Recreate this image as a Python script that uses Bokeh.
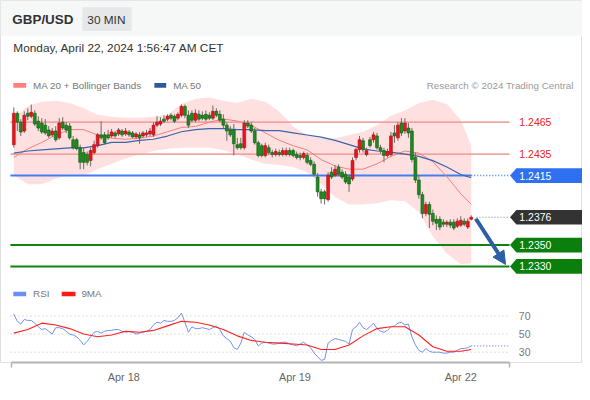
from bokeh.plotting import figure
from bokeh.models import Range1d, FixedTicker, Arrow, NormalHead
from bokeh.embed import file_html
from bokeh.resources import INLINE
from bokeh.core.properties import value

# ---------------- data (GBP/USD, 30 min candles) ----------------
opens = [
    1.24439, 1.24733, 1.24650, 1.24567, 1.24733, 1.24705, 1.24733, 1.24659, 1.24641, 1.24622,
    1.24577, 1.24531, 1.24567, 1.24503, 1.24650, 1.24622, 1.24613, 1.24485, 1.24485, 1.24411,
    1.24365, 1.24347, 1.24292, 1.24365, 1.24430, 1.24531, 1.24531, 1.24531, 1.24521, 1.24549,
    1.24540, 1.24567, 1.24540, 1.24558, 1.24549, 1.24512, 1.24531, 1.24521, 1.24531, 1.24540,
    1.24531, 1.24622, 1.24632, 1.24678, 1.24678, 1.24714, 1.24705, 1.24687, 1.24714, 1.24797,
    1.24714, 1.24733, 1.24668, 1.24723, 1.24714, 1.24723, 1.24714, 1.24687, 1.24751, 1.24723,
    1.24678, 1.24622, 1.24577, 1.24577, 1.24439, 1.24448, 1.24411, 1.24641, 1.24622, 1.24567,
    1.24457, 1.24430, 1.24338, 1.24411, 1.24365, 1.24347, 1.24365, 1.24347, 1.24347, 1.24384,
    1.24384, 1.24347, 1.24338, 1.24320, 1.24338, 1.24292, 1.24255, 1.24136, 1.23998, 1.23998,
    1.23925, 1.24182, 1.24154, 1.24228, 1.24182, 1.24163, 1.24136, 1.24118, 1.24320, 1.24393,
    1.24476, 1.24347, 1.24485, 1.24485, 1.24521, 1.24411, 1.24384, 1.24338, 1.24347, 1.24549,
    1.24503, 1.24641, 1.24567, 1.24595, 1.24567, 1.24320, 1.24108, 1.23971, 1.23796, 1.23879,
    1.23796, 1.23741, 1.23741, 1.23714, 1.23695, 1.23714, 1.23714, 1.23677, 1.23686, 1.23723,
    1.23668, 1.23741]
highs = [
    1.24788, 1.24751, 1.24678, 1.24751, 1.24779, 1.24815, 1.24760, 1.24705, 1.24687, 1.24678,
    1.24613, 1.24595, 1.24613, 1.24687, 1.24696, 1.24650, 1.24641, 1.24521, 1.24503, 1.24439,
    1.24411, 1.24375, 1.24411, 1.24476, 1.24549, 1.24659, 1.24558, 1.24577, 1.24586, 1.24567,
    1.24595, 1.24586, 1.24595, 1.24577, 1.24567, 1.24558, 1.24558, 1.24567, 1.24577, 1.24595,
    1.24650, 1.24705, 1.24696, 1.24714, 1.24723, 1.24733, 1.24723, 1.24742, 1.24815, 1.24815,
    1.24760, 1.24760, 1.24769, 1.24760, 1.24751, 1.24760, 1.24742, 1.24806, 1.24779, 1.24760,
    1.24723, 1.24650, 1.24613, 1.24632, 1.24503, 1.24503, 1.24668, 1.24668, 1.24650, 1.24595,
    1.24476, 1.24448, 1.24457, 1.24439, 1.24393, 1.24402, 1.24393, 1.24411, 1.24411, 1.24411,
    1.24402, 1.24375, 1.24365, 1.24375, 1.24365, 1.24320, 1.24283, 1.24173, 1.24026, 1.24017,
    1.24182, 1.24228, 1.24246, 1.24255, 1.24209, 1.24191, 1.24163, 1.24320, 1.24411, 1.24521,
    1.24503, 1.24411, 1.24512, 1.24558, 1.24549, 1.24439, 1.24411, 1.24402, 1.24558, 1.24622,
    1.24650, 1.24687, 1.24687, 1.24641, 1.24595, 1.24365, 1.24154, 1.23998, 1.23906, 1.23906,
    1.23833, 1.23778, 1.23769, 1.23741, 1.23732, 1.23741, 1.23741, 1.23750, 1.23769, 1.23750,
    1.23750, 1.23778]
lows = [
    1.24411, 1.24567, 1.24521, 1.24549, 1.24668, 1.24687, 1.24613, 1.24567, 1.24540, 1.24531,
    1.24503, 1.24512, 1.24466, 1.24485, 1.24577, 1.24549, 1.24485, 1.24393, 1.24384, 1.24209,
    1.24209, 1.24246, 1.24237, 1.24347, 1.24411, 1.24485, 1.24439, 1.24485, 1.24503, 1.24503,
    1.24521, 1.24512, 1.24521, 1.24512, 1.24503, 1.24494, 1.24448, 1.24503, 1.24512, 1.24521,
    1.24512, 1.24604, 1.24613, 1.24641, 1.24659, 1.24668, 1.24641, 1.24668, 1.24696, 1.24687,
    1.24595, 1.24650, 1.24650, 1.24659, 1.24668, 1.24659, 1.24668, 1.24668, 1.24696, 1.24650,
    1.24595, 1.24476, 1.24512, 1.24338, 1.24393, 1.24393, 1.24393, 1.24595, 1.24549, 1.24439,
    1.24320, 1.24320, 1.24320, 1.24347, 1.24320, 1.24329, 1.24329, 1.24329, 1.24329, 1.24329,
    1.24320, 1.24301, 1.24292, 1.24301, 1.24255, 1.24237, 1.24145, 1.23952, 1.23888, 1.23879,
    1.23906, 1.24118, 1.24136, 1.24145, 1.24118, 1.24072, 1.23998, 1.24099, 1.24292, 1.24365,
    1.24365, 1.24329, 1.24411, 1.24457, 1.24393, 1.24356, 1.24274, 1.24320, 1.24329, 1.24457,
    1.24476, 1.24521, 1.24540, 1.24503, 1.24274, 1.24081, 1.23934, 1.23750, 1.23769, 1.23659,
    1.23686, 1.23640, 1.23640, 1.23668, 1.23668, 1.23659, 1.23640, 1.23659, 1.23668, 1.23677,
    1.23650, 1.23732]
closes = [
    1.24733, 1.24650, 1.24558, 1.24714, 1.24705, 1.24742, 1.24632, 1.24595, 1.24558, 1.24549,
    1.24521, 1.24567, 1.24485, 1.24641, 1.24595, 1.24577, 1.24503, 1.24411, 1.24402, 1.24274,
    1.24274, 1.24274, 1.24384, 1.24439, 1.24531, 1.24503, 1.24457, 1.24503, 1.24558, 1.24521,
    1.24577, 1.24531, 1.24567, 1.24531, 1.24512, 1.24540, 1.24503, 1.24549, 1.24549, 1.24567,
    1.24622, 1.24650, 1.24659, 1.24659, 1.24705, 1.24687, 1.24659, 1.24723, 1.24797, 1.24714,
    1.24622, 1.24668, 1.24733, 1.24678, 1.24687, 1.24678, 1.24687, 1.24751, 1.24714, 1.24668,
    1.24622, 1.24567, 1.24531, 1.24448, 1.24411, 1.24411, 1.24641, 1.24613, 1.24567, 1.24457,
    1.24338, 1.24338, 1.24430, 1.24365, 1.24347, 1.24375, 1.24347, 1.24384, 1.24384, 1.24347,
    1.24338, 1.24320, 1.24320, 1.24356, 1.24274, 1.24255, 1.24163, 1.23998, 1.23934, 1.23934,
    1.24154, 1.24136, 1.24209, 1.24163, 1.24136, 1.24090, 1.24072, 1.24292, 1.24393, 1.24485,
    1.24393, 1.24384, 1.24430, 1.24531, 1.24411, 1.24384, 1.24338, 1.24375, 1.24521, 1.24521,
    1.24622, 1.24549, 1.24641, 1.24549, 1.24301, 1.24108, 1.23971, 1.23796, 1.23879, 1.23787,
    1.23723, 1.23705, 1.23668, 1.23695, 1.23714, 1.23686, 1.23659, 1.23723, 1.23732, 1.23695,
    1.23723, 1.23760]

# indicator samples (bar index of each sample)
ma_idx = [0, 4, 8, 12, 16, 20, 24, 28, 32, 36, 40, 44, 48, 52, 56, 60, 64, 68, 72, 76,
          80, 84, 88, 92, 96, 100, 104, 108, 112, 116, 120, 124, 128, 131]
ma20 = [1.2432, 1.2440, 1.2446, 1.2453, 1.2458, 1.2458, 1.2453, 1.2450, 1.2449, 1.2450,
        1.2452, 1.2456, 1.2460, 1.2461, 1.2465, 1.2468, 1.2466, 1.2462, 1.2455, 1.2448,
        1.2443, 1.2439, 1.2430, 1.2424, 1.2421, 1.2421, 1.2426, 1.2433, 1.2438, 1.2436,
        1.2428, 1.2414, 1.2398, 1.2388]
ma50 = [1.2436, 1.2438, 1.2439, 1.2440, 1.2441, 1.2441, 1.2443, 1.2446, 1.2446, 1.2448,
        1.2449, 1.2452, 1.2456, 1.2458, 1.2459, 1.2459, 1.2458, 1.2458, 1.2457, 1.2457,
        1.2455, 1.2453, 1.2451, 1.2448, 1.2444, 1.2440, 1.2438, 1.2437, 1.2435, 1.2433,
        1.2429, 1.2423, 1.2416, 1.2413]
bb_upper = [1.2469, 1.2480, 1.2484, 1.2485, 1.2483, 1.2478, 1.2472, 1.2470, 1.2469, 1.2469,
            1.2470, 1.2472, 1.2482, 1.2487, 1.2488, 1.2485, 1.2483, 1.2487, 1.2484, 1.2475,
            1.2461, 1.2453, 1.2450, 1.2450, 1.2453, 1.2456, 1.2462, 1.2471, 1.2476, 1.2483,
            1.2486, 1.2482, 1.2467, 1.2443]
bb_lower = [1.2415, 1.2407, 1.2407, 1.2412, 1.2416, 1.2415, 1.2421, 1.2426, 1.2431, 1.2435,
            1.2438, 1.2440, 1.2441, 1.2441, 1.2441, 1.2439, 1.2435, 1.2430, 1.2426, 1.2425,
            1.2423, 1.2418, 1.2407, 1.2395, 1.2388, 1.2388, 1.2389, 1.2392, 1.2391, 1.2381,
            1.2358, 1.2342, 1.2332, 1.2333]

rsi = [72, 64, 61, 66, 65, 65, 62, 58, 55, 56,
       53, 50, 57, 57, 56, 53, 50, 49, 47, 43,
       38, 42, 47, 52, 53, 51, 53, 54, 54, 55,
       55, 53, 52, 53, 52, 50, 51, 52, 53, 55,
       60, 63, 62, 65, 64, 64, 65, 68, 73, 63,
       52, 58, 56, 56, 57, 56, 55, 57, 59, 55,
       48, 45, 42, 35, 33, 40, 52, 49, 47, 44,
       37, 40, 41, 40, 39, 39, 40, 41, 41, 39,
       38, 37, 39, 41, 38, 35, 29, 25, 21, 22,
       40, 43, 45, 44, 43, 42, 39, 55, 58, 63,
       57, 55, 58, 62, 56, 53, 52, 54, 58, 59,
       62, 63, 60, 61, 47, 38, 32, 30, 34, 31,
       30, 30, 30, 29, 29, 30, 30, 32, 34, 34,
       35, 37]
rsi_ma9 = [51, 55, 62, 60, 56, 50, 47, 49, 53, 52, 54, 59, 64, 63, 60, 55, 48, 43, 41, 40,
           39, 38, 33, 33, 38, 48, 56, 58, 58, 49, 36, 31, 31, 33]

resist_levels = [1.2465, 1.2435]
pivot_level = 1.2415
last_price = 1.2376
support_levels = [1.2350, 1.2330]
rsi_levels = [70, 50, 30]
tick_pos = [31.5, 80.5, 128]
tick_labels = ["Apr 18", "Apr 19", "Apr 22"]

# ---------------- layout (reference pixel geometry) ----------------
W, H = 582, 392
REF_W, REF_AXIS = 590.0, 369.0
FS = W / REF_W
FONT = "Liberation Sans"
PX_PER_BAR, BAR0_PX = 3.54, 13.5
PRICE_PER_PX, PRICE_REF_PX = 0.0000918, 124.0
RSI_PER_PX, RSI_MID_PX = 1 / 0.925, 340.0


def bx(px):
    return (px - BAR0_PX) / PX_PER_BAR


def py(pxy):
    return resist_levels[0] + (PRICE_REF_PX - pxy) * PRICE_PER_PX


def ry(pxy):
    return 50 + (RSI_MID_PX - pxy) * RSI_PER_PX


p = figure(width=W, height=H, output_backend="svg", toolbar_location=None,
           x_range=Range1d(bx(0), bx(REF_W)), y_range=Range1d(py(REF_AXIS), py(0)),
           y_axis_location=None, min_border_left=0, min_border_right=0,
           min_border_top=0, min_border_bottom=30)
p.extra_y_ranges = {"rsi": Range1d(ry(REF_AXIS), ry(0)), "px": Range1d(REF_AXIS, 0)}
p.extra_x_ranges = {"px": Range1d(0, REF_W)}
p.grid.visible = False
p.outline_line_color = "#e0e0e0"
p.background_fill_color = "white"
p.border_fill_color = "white"


def px_text(x, y, s, size, color, style="normal", align="left"):
    p.text(x=[x], y=[y], text=[s], x_range_name="px", y_range_name="px",
           text_font=value(FONT), text_font_size=f"{size * FS:.2f}px",
           text_font_style=style, text_color=color, text_align=align,
           text_baseline="middle")


def px_box(l, r, t, b, color):
    p.quad(left=[l], right=[r], top=[t], bottom=[b], x_range_name="px",
           y_range_name="px", fill_color=color, line_color=None)


# header
px_box(0, REF_W, 0, 36, "#f6f7f7")
px_box(83, 133, 7, 31, "#e5e7e9")
px_text(12, 19.5, "GBP/USD", 13.6, "#333333", "bold")
px_text(88, 19.5, "30 MIN", 12, "#333333")
px_text(13, 48.5, "Monday, April 22, 2024 1:56:47 AM CET", 12, "#333333")

# legends
px_box(13, 26, 84, 89, "#ff8080")
px_text(33, 86.5, "MA 20 + Bollinger Bands", 10, "#777777")
px_box(156, 168, 84, 89, "#2e5a9c")
px_text(175, 86.5, "MA 50", 10, "#777777")
px_text(581, 86.5, "Research \u00a9 2024 Trading Central", 10, "#9a9a9a", align="right")
px_box(13, 26, 297, 301.5, "#6b8ef0")
px_text(33, 299, "RSI", 10, "#777777")
px_box(62, 76, 297, 301.5, "#ff1a1a")
px_text(82, 299, "9MA", 10, "#777777")

# Bollinger band
p.varea(x=ma_idx, y1=bb_lower, y2=bb_upper, fill_color="#ffe0e0")

# horizontal levels
LX0, LX1 = bx(10), bx(516)
n = len(closes)
for lv in resist_levels:
    p.line([LX0, LX1], [lv, lv], line_color="#f4a3a3", line_width=1.8)
p.line([LX0, n - 1], [pivot_level, pivot_level], line_color="#3f7ef2", line_width=2)
p.line([n - 1, LX1], [pivot_level, pivot_level], line_color="#3f7ef2", line_width=1.5,
       line_dash="1 2")
p.line([n + 0.5, LX1], [last_price, last_price], line_color="#888888", line_width=1.2,
       line_dash="1 2")
for lv in support_levels:
    p.line([LX0, LX1], [lv, lv], line_color="#0e840e", line_width=2)

# moving averages
p.line(ma_idx, ma20, line_color="#f27f7f", line_width=1)
p.line(ma_idx, ma50, line_color="#3d64ab", line_width=1.2)

# candles
idx = list(range(n))
tops = [max(o, c) for o, c in zip(opens, closes)]
bots = [min(o, c) for o, c in zip(opens, closes)]
fills = ["#e8161c" if c >= o else "#1f8a1f" for o, c in zip(opens, closes)]
edges = ["#a80c10" if c >= o else "#0d5a0d" for o, c in zip(opens, closes)]
p.segment(x0=idx, y0=lows, x1=idx, y1=highs, line_color="#6a6a6a", line_width=1)
p.vbar(x=idx, width=0.82, top=tops, bottom=bots, fill_color=fills, line_color=edges,
       line_width=0.6)

# forecast arrow
AC = "#2d5fa6"
p.add_layout(Arrow(end=NormalHead(size=13, fill_color=AC, line_color=AC),
                   x_start=n + 0.3, y_start=last_price - 1.5 * PRICE_PER_PX,
                   x_end=bx(512), y_end=support_levels[1] + 2 * PRICE_PER_PX,
                   line_color=AC, line_width=4))

# price labels
HH = 7.5 * PRICE_PER_PX
TIP, BL, BR = bx(516.5), bx(523), bx(590)
box_levels = [pivot_level, last_price] + support_levels
box_colors = ["#2f70f0", "#333333", "#0b7f0b", "#0b7f0b"]
p.patches(xs=[[TIP, BL, BR, BR, BL] for _ in box_levels],
          ys=[[v, v + HH, v + HH, v - HH, v - HH] for v in box_levels],
          fill_color=box_colors, line_color=None)
p.text(x=[bx(526)] * len(box_levels), y=box_levels,
       text=[f"{v:.4f}" for v in box_levels], text_color="white",
       text_font=value(FONT), text_font_size=f"{10.6 * FS:.2f}px",
       text_baseline="middle", text_align="left")
p.text(x=[bx(526)] * len(resist_levels), y=resist_levels,
       text=[f"{v:.4f}" for v in resist_levels], text_color="#f02020",
       text_font=value(FONT), text_font_size=f"{10.6 * FS:.2f}px",
       text_baseline="middle", text_align="left")

# RSI panel
for lv in rsi_levels:
    p.line([LX0, LX1], [lv, lv], y_range_name="rsi", line_color="#bbbbbb",
           line_width=1, line_dash="1 3")
p.line(idx, rsi, y_range_name="rsi", line_color="#7392ee", line_width=1)
p.line([n - 1, LX1], [rsi[-1], rsi[-1]], y_range_name="rsi", line_color="#7392ee",
       line_width=1.2, line_dash="1 2")
p.line(ma_idx, rsi_ma9, y_range_name="rsi", line_color="#ff2020", line_width=1.1)
p.text(x=[bx(525.5)] * len(rsi_levels), y=rsi_levels, y_range_name="rsi",
       text=[str(v) for v in rsi_levels], text_color="#777777",
       text_font=value(FONT), text_font_size=f"{10.6 * FS:.2f}px",
       text_baseline="middle", text_align="left")

# time axis
ax = p.xaxis[0]
ax.ticker = FixedTicker(ticks=tick_pos, minor_ticks=[bx(11) + 0.05, bx(516) - 0.05])
ax.major_label_overrides = {t: l for t, l in zip(tick_pos, tick_labels)}
ax.bounds = (bx(11), bx(516))
ax.axis_line_color = "#b4b4b4"
ax.axis_line_width = 2
ax.major_tick_line_color = None
ax.major_tick_out = 0
ax.major_tick_in = 0
ax.minor_tick_line_color = "#b4b4b4"
ax.minor_tick_line_width = 1.5
ax.minor_tick_out = 5
ax.minor_tick_in = 0
ax.major_label_text_font = FONT
ax.major_label_text_font_size = f"{11 * FS:.2f}px"
ax.major_label_text_color = "#666666"
ax.major_label_standoff = 3

open("out.html", "w").write(file_html(p, INLINE))
